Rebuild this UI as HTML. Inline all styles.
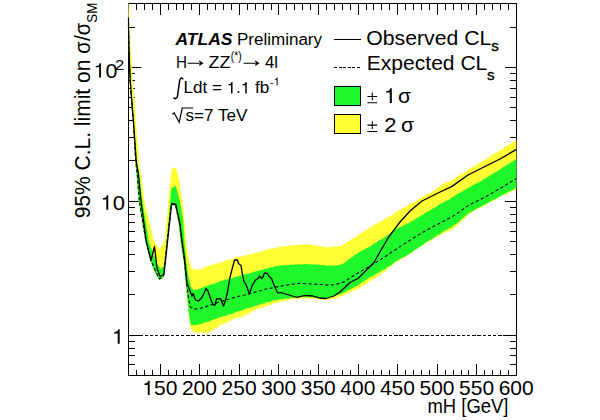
<!DOCTYPE html>
<html><head><meta charset="utf-8"><title>ATLAS limit plot</title>
<style>
html,body{margin:0;padding:0;background:#fff;}
body{width:600px;height:420px;overflow:hidden;}
svg{display:block;}
text{font-family:"Liberation Sans",sans-serif;fill:#000;}
</style></head><body>
<svg width="600" height="420" viewBox="0 0 600 420">
<rect x="0" y="0" width="600" height="420" fill="#fff"/>
<!-- frame and ticks -->
<g stroke="#000" stroke-width="1" fill="none" shape-rendering="crispEdges">
<rect x="128.5" y="3.5" width="388.0" height="372.0"/>
<line x1="136.42" y1="375.50" x2="136.42" y2="370.00"/><line x1="136.42" y1="3.50" x2="136.42" y2="10.00"/><line x1="144.34" y1="375.50" x2="144.34" y2="370.00"/><line x1="144.34" y1="3.50" x2="144.34" y2="10.00"/><line x1="152.26" y1="375.50" x2="152.26" y2="370.00"/><line x1="152.26" y1="3.50" x2="152.26" y2="10.00"/><line x1="160.17" y1="375.50" x2="160.17" y2="364.00"/><line x1="160.17" y1="3.50" x2="160.17" y2="15.00"/><line x1="168.09" y1="375.50" x2="168.09" y2="370.00"/><line x1="168.09" y1="3.50" x2="168.09" y2="10.00"/><line x1="176.01" y1="375.50" x2="176.01" y2="370.00"/><line x1="176.01" y1="3.50" x2="176.01" y2="10.00"/><line x1="183.93" y1="375.50" x2="183.93" y2="370.00"/><line x1="183.93" y1="3.50" x2="183.93" y2="10.00"/><line x1="191.85" y1="375.50" x2="191.85" y2="370.00"/><line x1="191.85" y1="3.50" x2="191.85" y2="10.00"/><line x1="199.77" y1="375.50" x2="199.77" y2="364.00"/><line x1="199.77" y1="3.50" x2="199.77" y2="15.00"/><line x1="207.68" y1="375.50" x2="207.68" y2="370.00"/><line x1="207.68" y1="3.50" x2="207.68" y2="10.00"/><line x1="215.60" y1="375.50" x2="215.60" y2="370.00"/><line x1="215.60" y1="3.50" x2="215.60" y2="10.00"/><line x1="223.52" y1="375.50" x2="223.52" y2="370.00"/><line x1="223.52" y1="3.50" x2="223.52" y2="10.00"/><line x1="231.44" y1="375.50" x2="231.44" y2="370.00"/><line x1="231.44" y1="3.50" x2="231.44" y2="10.00"/><line x1="239.36" y1="375.50" x2="239.36" y2="364.00"/><line x1="239.36" y1="3.50" x2="239.36" y2="15.00"/><line x1="247.28" y1="375.50" x2="247.28" y2="370.00"/><line x1="247.28" y1="3.50" x2="247.28" y2="10.00"/><line x1="255.19" y1="375.50" x2="255.19" y2="370.00"/><line x1="255.19" y1="3.50" x2="255.19" y2="10.00"/><line x1="263.11" y1="375.50" x2="263.11" y2="370.00"/><line x1="263.11" y1="3.50" x2="263.11" y2="10.00"/><line x1="271.03" y1="375.50" x2="271.03" y2="370.00"/><line x1="271.03" y1="3.50" x2="271.03" y2="10.00"/><line x1="278.95" y1="375.50" x2="278.95" y2="364.00"/><line x1="278.95" y1="3.50" x2="278.95" y2="15.00"/><line x1="286.87" y1="375.50" x2="286.87" y2="370.00"/><line x1="286.87" y1="3.50" x2="286.87" y2="10.00"/><line x1="294.79" y1="375.50" x2="294.79" y2="370.00"/><line x1="294.79" y1="3.50" x2="294.79" y2="10.00"/><line x1="302.70" y1="375.50" x2="302.70" y2="370.00"/><line x1="302.70" y1="3.50" x2="302.70" y2="10.00"/><line x1="310.62" y1="375.50" x2="310.62" y2="370.00"/><line x1="310.62" y1="3.50" x2="310.62" y2="10.00"/><line x1="318.54" y1="375.50" x2="318.54" y2="364.00"/><line x1="318.54" y1="3.50" x2="318.54" y2="15.00"/><line x1="326.46" y1="375.50" x2="326.46" y2="370.00"/><line x1="326.46" y1="3.50" x2="326.46" y2="10.00"/><line x1="334.38" y1="375.50" x2="334.38" y2="370.00"/><line x1="334.38" y1="3.50" x2="334.38" y2="10.00"/><line x1="342.30" y1="375.50" x2="342.30" y2="370.00"/><line x1="342.30" y1="3.50" x2="342.30" y2="10.00"/><line x1="350.21" y1="375.50" x2="350.21" y2="370.00"/><line x1="350.21" y1="3.50" x2="350.21" y2="10.00"/><line x1="358.13" y1="375.50" x2="358.13" y2="364.00"/><line x1="358.13" y1="3.50" x2="358.13" y2="15.00"/><line x1="366.05" y1="375.50" x2="366.05" y2="370.00"/><line x1="366.05" y1="3.50" x2="366.05" y2="10.00"/><line x1="373.97" y1="375.50" x2="373.97" y2="370.00"/><line x1="373.97" y1="3.50" x2="373.97" y2="10.00"/><line x1="381.89" y1="375.50" x2="381.89" y2="370.00"/><line x1="381.89" y1="3.50" x2="381.89" y2="10.00"/><line x1="389.81" y1="375.50" x2="389.81" y2="370.00"/><line x1="389.81" y1="3.50" x2="389.81" y2="10.00"/><line x1="397.72" y1="375.50" x2="397.72" y2="364.00"/><line x1="397.72" y1="3.50" x2="397.72" y2="15.00"/><line x1="405.64" y1="375.50" x2="405.64" y2="370.00"/><line x1="405.64" y1="3.50" x2="405.64" y2="10.00"/><line x1="413.56" y1="375.50" x2="413.56" y2="370.00"/><line x1="413.56" y1="3.50" x2="413.56" y2="10.00"/><line x1="421.48" y1="375.50" x2="421.48" y2="370.00"/><line x1="421.48" y1="3.50" x2="421.48" y2="10.00"/><line x1="429.40" y1="375.50" x2="429.40" y2="370.00"/><line x1="429.40" y1="3.50" x2="429.40" y2="10.00"/><line x1="437.32" y1="375.50" x2="437.32" y2="364.00"/><line x1="437.32" y1="3.50" x2="437.32" y2="15.00"/><line x1="445.23" y1="375.50" x2="445.23" y2="370.00"/><line x1="445.23" y1="3.50" x2="445.23" y2="10.00"/><line x1="453.15" y1="375.50" x2="453.15" y2="370.00"/><line x1="453.15" y1="3.50" x2="453.15" y2="10.00"/><line x1="461.07" y1="375.50" x2="461.07" y2="370.00"/><line x1="461.07" y1="3.50" x2="461.07" y2="10.00"/><line x1="468.99" y1="375.50" x2="468.99" y2="370.00"/><line x1="468.99" y1="3.50" x2="468.99" y2="10.00"/><line x1="476.91" y1="375.50" x2="476.91" y2="364.00"/><line x1="476.91" y1="3.50" x2="476.91" y2="15.00"/><line x1="484.83" y1="375.50" x2="484.83" y2="370.00"/><line x1="484.83" y1="3.50" x2="484.83" y2="10.00"/><line x1="492.74" y1="375.50" x2="492.74" y2="370.00"/><line x1="492.74" y1="3.50" x2="492.74" y2="10.00"/><line x1="500.66" y1="375.50" x2="500.66" y2="370.00"/><line x1="500.66" y1="3.50" x2="500.66" y2="10.00"/><line x1="508.58" y1="375.50" x2="508.58" y2="370.00"/><line x1="508.58" y1="3.50" x2="508.58" y2="10.00"/><line x1="128.50" y1="364.90" x2="135.00" y2="364.90"/><line x1="516.50" y1="364.90" x2="510.00" y2="364.90"/><line x1="128.50" y1="355.93" x2="135.00" y2="355.93"/><line x1="516.50" y1="355.93" x2="510.00" y2="355.93"/><line x1="128.50" y1="348.17" x2="135.00" y2="348.17"/><line x1="516.50" y1="348.17" x2="510.00" y2="348.17"/><line x1="128.50" y1="341.32" x2="135.00" y2="341.32"/><line x1="516.50" y1="341.32" x2="510.00" y2="341.32"/><line x1="128.50" y1="335.19" x2="140.50" y2="335.19"/><line x1="516.50" y1="335.19" x2="504.50" y2="335.19"/><line x1="128.50" y1="294.88" x2="135.00" y2="294.88"/><line x1="516.50" y1="294.88" x2="510.00" y2="294.88"/><line x1="128.50" y1="271.30" x2="135.00" y2="271.30"/><line x1="516.50" y1="271.30" x2="510.00" y2="271.30"/><line x1="128.50" y1="254.57" x2="135.00" y2="254.57"/><line x1="516.50" y1="254.57" x2="510.00" y2="254.57"/><line x1="128.50" y1="241.60" x2="135.00" y2="241.60"/><line x1="516.50" y1="241.60" x2="510.00" y2="241.60"/><line x1="128.50" y1="231.00" x2="135.00" y2="231.00"/><line x1="516.50" y1="231.00" x2="510.00" y2="231.00"/><line x1="128.50" y1="222.03" x2="135.00" y2="222.03"/><line x1="516.50" y1="222.03" x2="510.00" y2="222.03"/><line x1="128.50" y1="214.27" x2="135.00" y2="214.27"/><line x1="516.50" y1="214.27" x2="510.00" y2="214.27"/><line x1="128.50" y1="207.42" x2="135.00" y2="207.42"/><line x1="516.50" y1="207.42" x2="510.00" y2="207.42"/><line x1="128.50" y1="201.29" x2="140.50" y2="201.29"/><line x1="516.50" y1="201.29" x2="504.50" y2="201.29"/><line x1="128.50" y1="160.98" x2="135.00" y2="160.98"/><line x1="516.50" y1="160.98" x2="510.00" y2="160.98"/><line x1="128.50" y1="137.40" x2="135.00" y2="137.40"/><line x1="516.50" y1="137.40" x2="510.00" y2="137.40"/><line x1="128.50" y1="120.67" x2="135.00" y2="120.67"/><line x1="516.50" y1="120.67" x2="510.00" y2="120.67"/><line x1="128.50" y1="107.70" x2="135.00" y2="107.70"/><line x1="516.50" y1="107.70" x2="510.00" y2="107.70"/><line x1="128.50" y1="97.09" x2="135.00" y2="97.09"/><line x1="516.50" y1="97.09" x2="510.00" y2="97.09"/><line x1="128.50" y1="88.13" x2="135.00" y2="88.13"/><line x1="516.50" y1="88.13" x2="510.00" y2="88.13"/><line x1="128.50" y1="80.36" x2="135.00" y2="80.36"/><line x1="516.50" y1="80.36" x2="510.00" y2="80.36"/><line x1="128.50" y1="73.51" x2="135.00" y2="73.51"/><line x1="516.50" y1="73.51" x2="510.00" y2="73.51"/><line x1="128.50" y1="67.39" x2="140.50" y2="67.39"/><line x1="516.50" y1="67.39" x2="504.50" y2="67.39"/><line x1="128.50" y1="27.08" x2="135.00" y2="27.08"/><line x1="516.50" y1="27.08" x2="510.00" y2="27.08"/><line x1="128.50" y1="3.50" x2="135.00" y2="3.50"/><line x1="516.50" y1="3.50" x2="510.00" y2="3.50"/>
</g>
<!-- bands -->
<defs><clipPath id="fr"><rect x="127.5" y="3" width="389" height="373"/></clipPath></defs>
<g clip-path="url(#fr)">
<polygon points="128.4,3.0 129.9,40.0 132.3,80.0 134.3,100.0 135.8,122.0 138.8,161.0 144.5,202.0 153.5,240.0 159.5,250.0 165.0,240.0 168.5,202.0 171.5,169.6 175.6,167.4 179.0,179.0 180.0,188.0 182.5,202.0 183.3,210.0 185.0,226.0 186.0,242.0 189.0,260.0 191.3,268.5 192.7,268.8 194.1,269.7 195.5,269.4 196.9,269.9 198.3,269.8 199.7,269.6 201.1,269.5 202.5,268.4 203.9,268.0 205.3,267.0 206.7,266.3 208.1,266.2 209.5,266.2 210.9,265.1 212.3,264.8 213.7,264.7 215.1,264.6 216.5,263.8 217.9,263.2 219.3,263.3 220.7,262.1 222.1,262.4 223.5,261.5 224.9,260.9 226.3,260.5 227.7,260.2 229.1,260.2 230.5,259.3 231.9,259.2 233.3,258.8 234.7,258.2 236.1,258.0 237.5,257.2 238.9,256.9 240.3,256.7 241.7,256.7 243.1,256.1 244.5,255.7 245.9,255.6 247.3,255.1 248.7,254.6 250.1,254.7 251.5,254.3 252.9,253.5 254.3,253.5 255.7,253.1 257.1,253.1 258.5,252.6 259.9,251.8 261.3,252.0 262.7,250.8 264.1,250.6 265.5,250.4 266.9,249.4 268.3,249.3 269.7,248.6 271.1,248.9 272.5,248.7 273.9,248.2 275.3,248.2 276.7,247.4 278.1,247.5 279.5,247.1 280.9,246.8 282.3,246.5 283.7,246.7 285.1,246.6 286.5,246.1 287.9,246.1 289.3,245.4 290.7,245.8 292.1,245.6 293.5,245.8 294.9,245.5 296.3,245.0 297.7,245.0 299.1,245.2 300.5,244.6 301.9,245.0 303.3,244.7 304.7,244.6 306.1,244.5 307.5,245.1 308.9,244.5 310.3,244.8 311.7,245.1 313.1,245.7 314.5,245.1 315.9,245.6 317.3,245.9 318.7,246.3 320.1,246.4 321.5,246.6 322.9,246.3 324.3,246.8 325.7,247.0 327.1,247.7 328.5,247.7 329.9,246.8 331.3,246.8 332.7,246.7 334.1,246.6 335.5,246.7 336.9,246.7 338.3,246.3 339.7,245.9 341.1,246.0 342.5,245.0 343.9,244.3 345.3,243.8 346.7,242.6 348.1,241.6 349.5,240.8 350.9,240.0 352.3,238.5 353.7,238.4 355.1,237.4 356.5,236.6 357.9,235.6 359.3,234.4 360.7,233.6 362.1,232.4 363.5,232.1 364.9,230.7 366.3,229.9 367.7,229.1 369.1,228.2 370.5,227.5 371.9,226.4 373.3,225.5 374.7,224.8 376.1,223.9 377.5,223.3 378.9,222.2 380.3,222.2 381.7,221.1 383.1,219.9 384.5,219.2 385.9,218.5 387.3,217.7 388.7,216.7 390.1,216.6 391.5,215.8 392.9,214.5 394.3,213.7 395.7,212.5 397.1,211.6 398.5,211.0 399.9,210.1 401.3,209.7 402.7,208.3 404.1,207.3 405.5,207.3 406.9,206.2 408.3,205.0 409.7,204.6 411.1,203.3 412.5,202.9 413.9,202.5 415.3,201.6 416.7,200.7 418.1,199.5 419.5,198.7 420.9,197.7 422.3,197.5 423.7,196.4 425.1,195.8 426.5,194.6 427.9,193.7 429.3,193.4 430.7,192.7 432.1,191.7 433.5,190.8 434.9,189.9 436.3,188.9 437.7,187.6 439.1,187.0 440.5,185.9 441.9,184.8 443.3,183.9 444.7,183.4 446.1,182.6 447.5,182.3 448.9,181.8 450.3,180.6 451.7,180.3 453.1,179.6 454.5,178.9 455.9,177.6 457.3,176.7 458.7,175.8 460.1,174.8 461.5,173.9 462.9,173.4 464.3,172.7 465.7,171.8 467.1,170.6 468.5,169.8 469.9,169.0 471.3,167.6 472.7,167.3 474.1,166.6 475.5,165.7 476.9,164.9 478.3,163.8 479.7,162.7 481.1,162.4 482.5,161.1 483.9,160.6 485.3,159.9 486.7,158.5 488.1,157.7 489.5,157.3 490.9,156.2 492.3,154.8 493.7,153.9 495.1,153.1 496.5,152.9 497.9,151.9 499.3,150.4 500.7,150.2 502.1,149.4 503.5,148.3 504.9,147.1 506.3,146.4 507.7,145.2 509.1,144.2 510.5,144.2 511.9,143.0 513.3,142.0 514.7,141.5 516.1,140.2 516.5,140.0 516.5,189.3 515.4,189.8 514.0,190.2 512.6,190.7 511.2,191.7 509.8,192.2 508.4,193.1 507.0,193.2 505.6,194.6 504.2,195.0 502.8,195.6 501.4,195.8 500.0,196.7 498.6,197.7 497.2,198.8 495.8,199.2 494.4,200.3 493.0,200.7 491.6,201.9 490.2,201.8 488.8,202.7 487.4,203.9 486.0,204.2 484.6,205.1 483.2,206.4 481.8,207.1 480.4,207.4 479.0,208.1 477.6,209.0 476.2,209.4 474.8,210.7 473.4,211.0 472.0,211.9 470.6,213.0 469.2,214.2 467.8,215.0 466.4,216.2 465.0,218.0 463.6,219.3 462.2,220.5 460.8,221.6 459.4,223.0 458.0,224.8 456.6,226.3 455.2,227.0 453.8,228.2 452.4,229.3 451.0,230.4 449.6,230.7 448.2,230.9 446.8,231.6 445.4,232.6 444.0,233.2 442.6,233.6 441.2,234.3 439.8,235.0 438.4,235.9 437.0,236.5 435.6,237.6 434.2,238.4 432.8,238.7 431.4,240.3 430.0,240.9 428.6,241.3 427.2,242.3 425.8,243.5 424.4,243.9 423.0,245.3 421.6,245.9 420.2,247.2 418.8,247.4 417.4,248.3 416.0,249.4 414.6,250.1 413.2,251.8 411.8,252.7 410.4,253.6 409.0,254.2 407.6,254.7 406.2,256.4 404.8,256.9 403.4,257.9 402.0,258.3 400.6,259.4 399.2,260.7 397.8,261.0 396.4,261.9 395.0,263.2 393.6,264.6 392.2,265.0 390.8,266.2 389.4,267.3 388.0,268.4 386.6,270.0 385.2,270.8 383.8,272.1 382.4,272.8 381.0,274.2 379.6,274.5 378.2,275.9 376.8,277.0 375.4,277.9 374.0,278.7 372.6,279.6 371.2,280.3 369.8,281.1 368.4,282.1 367.0,283.2 365.6,283.9 364.2,284.4 362.8,285.3 361.4,286.3 360.0,287.8 358.6,288.6 357.2,289.5 355.8,289.6 354.4,290.5 353.0,290.6 351.6,291.3 350.2,292.0 348.8,293.1 347.4,293.2 346.0,293.7 344.6,295.0 343.2,295.2 341.8,295.7 340.4,296.2 339.0,297.0 337.6,297.6 336.2,298.2 334.8,298.5 333.4,298.8 332.0,298.5 330.6,299.4 329.2,299.3 327.8,299.4 326.4,299.5 325.0,299.6 323.6,300.0 322.2,299.8 320.8,299.3 319.4,298.9 318.0,298.6 316.6,299.3 315.2,298.8 313.8,299.0 312.4,298.7 311.0,298.0 309.6,298.2 308.2,298.2 306.8,298.6 305.4,298.1 304.0,298.4 302.6,298.7 301.2,298.0 299.8,298.0 298.4,299.1 297.0,299.1 295.6,298.5 294.2,299.8 292.8,298.7 291.4,298.8 290.0,299.1 288.6,300.5 287.2,300.7 285.8,300.3 284.4,300.0 283.0,301.7 281.6,301.2 280.2,301.3 278.8,302.8 277.4,302.3 276.0,302.8 274.6,302.4 273.2,303.4 271.8,304.4 270.4,304.9 269.0,304.7 267.6,305.1 266.2,306.8 264.8,306.0 263.4,307.9 262.0,307.5 260.6,307.9 259.2,308.0 257.8,308.7 256.4,309.5 255.0,310.0 253.6,310.7 252.2,311.8 250.8,311.5 249.4,313.4 248.0,314.4 246.6,313.8 245.2,314.6 243.8,316.1 242.4,316.7 241.0,316.8 239.6,317.6 238.2,318.1 236.8,317.8 235.4,317.8 234.0,318.3 232.6,319.0 231.2,321.0 229.8,320.4 228.4,321.3 227.0,321.6 225.6,323.5 224.2,323.7 222.8,323.9 221.4,324.2 220.0,324.8 218.6,326.2 217.2,327.7 215.8,327.6 214.4,329.3 213.0,329.5 211.6,330.7 210.2,332.1 208.8,331.1 207.4,335.6 206.0,331.4 204.6,332.2 203.2,333.0 201.8,333.0 200.4,331.4 199.0,332.3 197.6,333.1 196.2,333.8 194.8,331.4 193.4,330.8 192.0,331.6 190.4,326.0 188.3,312.0 186.4,290.0 183.6,260.0 180.7,241.0 179.0,225.0 175.5,205.5 171.3,205.0 167.2,243.0 163.7,277.0 159.5,280.0 154.6,271.5 150.3,260.0 145.4,241.0 138.8,201.0 136.7,175.0 135.3,160.0 133.2,122.0 130.2,83.0 129.0,52.0 128.3,26.0" fill="#ffff33" stroke="#ffff33" stroke-width="0.3" stroke-linejoin="miter"/>
<polygon points="128.4,17.0 129.1,50.0 130.5,81.0 133.8,122.0 136.7,161.0 139.2,175.0 142.3,201.0 149.0,243.0 152.9,253.0 156.6,263.0 160.5,269.0 164.0,266.0 166.0,250.0 168.3,225.0 170.2,202.0 171.5,188.6 175.6,185.8 180.0,202.0 183.0,220.0 184.5,244.0 186.0,260.0 188.0,275.0 191.0,287.0 193.5,290.3 194.9,290.1 196.3,289.6 197.7,289.4 199.1,288.9 200.5,288.3 201.9,288.0 203.3,287.3 204.7,286.9 206.1,286.1 207.5,286.1 208.9,285.2 210.3,284.8 211.7,284.5 213.1,284.2 214.5,283.4 215.9,283.3 217.3,282.6 218.7,282.1 220.1,281.6 221.5,280.8 222.9,280.7 224.3,280.0 225.7,279.5 227.1,279.6 228.5,278.8 229.9,278.6 231.3,278.4 232.7,277.9 234.1,277.4 235.5,277.1 236.9,276.8 238.3,276.5 239.7,275.7 241.1,275.6 242.5,275.0 243.9,274.6 245.3,274.6 246.7,274.0 248.1,273.7 249.5,273.4 250.9,273.1 252.3,272.4 253.7,272.2 255.1,271.7 256.5,271.3 257.9,271.0 259.3,270.5 260.7,270.1 262.1,269.7 263.5,269.6 264.9,269.1 266.3,268.8 267.7,268.5 269.1,267.7 270.5,267.6 271.9,267.7 273.3,267.3 274.7,266.6 276.1,266.3 277.5,266.3 278.9,265.8 280.3,265.7 281.7,265.3 283.1,265.6 284.5,265.5 285.9,265.5 287.3,264.9 288.7,265.1 290.1,265.0 291.5,264.5 292.9,264.9 294.3,264.8 295.7,264.2 297.1,264.7 298.5,264.3 299.9,264.4 301.3,264.7 302.7,264.6 304.1,264.1 305.5,264.3 306.9,264.3 308.3,264.2 309.7,264.2 311.1,264.4 312.5,264.7 313.9,264.3 315.3,264.8 316.7,264.8 318.1,264.6 319.5,264.9 320.9,265.2 322.3,265.2 323.7,265.0 325.1,265.7 326.5,265.7 327.9,265.9 329.3,265.4 330.7,265.6 332.1,265.5 333.5,266.1 334.9,265.8 336.3,265.4 337.7,265.3 339.1,265.3 340.5,264.8 341.9,264.1 343.3,263.7 344.7,263.1 346.1,261.8 347.5,260.8 348.9,259.3 350.3,258.3 351.7,257.6 353.1,256.4 354.5,255.1 355.9,254.6 357.3,253.5 358.7,252.8 360.1,251.6 361.5,251.4 362.9,250.0 364.3,249.8 365.7,248.8 367.1,248.0 368.5,247.3 369.9,246.9 371.3,245.5 372.7,244.6 374.1,244.0 375.5,242.9 376.9,242.0 378.3,241.1 379.7,240.2 381.1,239.4 382.5,238.7 383.9,237.7 385.3,237.1 386.7,235.7 388.1,234.9 389.5,233.7 390.9,232.8 392.3,231.6 393.7,230.8 395.1,229.6 396.5,229.1 397.9,228.3 399.3,227.3 400.7,226.9 402.1,226.5 403.5,225.3 404.9,225.1 406.3,224.1 407.7,223.5 409.1,223.1 410.5,222.0 411.9,221.3 413.3,220.6 414.7,219.9 416.1,218.6 417.5,218.1 418.9,217.2 420.3,216.3 421.7,215.3 423.1,214.5 424.5,213.5 425.9,212.7 427.3,211.9 428.7,211.5 430.1,210.4 431.5,209.4 432.9,208.5 434.3,208.1 435.7,207.3 437.1,206.3 438.5,205.1 439.9,204.3 441.3,203.6 442.7,203.0 444.1,202.0 445.5,201.4 446.9,200.5 448.3,200.2 449.7,199.3 451.1,198.2 452.5,197.1 453.9,196.8 455.3,195.5 456.7,194.7 458.1,193.7 459.5,193.1 460.9,192.4 462.3,191.6 463.7,190.6 465.1,190.0 466.5,188.9 467.9,188.2 469.3,187.3 470.7,186.7 472.1,185.7 473.5,184.9 474.9,184.3 476.3,183.4 477.7,182.9 479.1,182.0 480.5,181.4 481.9,180.5 483.3,179.8 484.7,179.1 486.1,177.9 487.5,177.1 488.9,176.6 490.3,175.2 491.7,174.7 493.1,173.8 494.5,172.5 495.9,172.2 497.3,171.3 498.7,170.3 500.1,169.4 501.5,168.6 502.9,167.3 504.3,166.7 505.7,165.8 507.1,165.1 508.5,164.2 509.9,163.4 511.3,162.3 512.7,161.7 514.1,160.6 515.5,159.8 516.5,159.0 516.5,188.0 515.5,188.6 514.1,189.0 512.7,189.8 511.3,190.7 509.9,191.2 508.5,191.6 507.1,192.5 505.7,193.4 504.3,194.3 502.9,194.5 501.5,195.2 500.1,196.2 498.7,197.2 497.3,197.8 495.9,198.8 494.5,199.2 493.1,199.8 491.7,200.4 490.3,201.6 488.9,202.1 487.5,202.9 486.1,203.8 484.7,204.6 483.3,205.0 481.9,205.8 480.5,207.0 479.1,207.6 477.7,208.1 476.3,208.7 474.9,209.5 473.5,210.5 472.1,211.5 470.7,211.8 469.3,213.0 467.9,213.6 466.5,215.0 465.1,216.1 463.7,217.4 462.3,218.5 460.9,219.8 459.5,221.2 458.1,222.2 456.7,223.3 455.3,224.3 453.9,225.2 452.5,226.0 451.1,227.4 449.7,228.1 448.3,228.8 446.9,229.7 445.5,230.1 444.1,230.7 442.7,232.0 441.3,232.8 439.9,234.0 438.5,234.7 437.1,235.1 435.7,236.0 434.3,237.5 432.9,238.3 431.5,239.3 430.1,239.8 428.7,240.6 427.3,241.4 425.9,242.3 424.5,243.1 423.1,244.5 421.7,245.3 420.3,246.2 418.9,246.9 417.5,248.4 416.1,248.9 414.7,249.7 413.3,250.9 411.9,251.9 410.5,253.0 409.1,253.8 407.7,254.6 406.3,255.6 404.9,256.5 403.5,257.1 402.1,257.7 400.7,258.5 399.3,259.2 397.9,260.2 396.5,260.8 395.1,261.8 393.7,262.7 392.3,263.9 390.9,265.2 389.5,266.1 388.1,266.5 386.7,267.6 385.3,268.9 383.9,269.3 382.5,270.1 381.1,270.9 379.7,271.8 378.3,272.7 376.9,273.3 375.5,274.3 374.1,274.9 372.7,276.1 371.3,276.7 369.9,277.2 368.5,278.1 367.1,279.1 365.7,279.8 364.3,281.2 362.9,281.5 361.5,282.5 360.1,283.7 358.7,284.6 357.3,285.3 355.9,286.3 354.5,286.5 353.1,287.7 351.7,288.3 350.3,289.3 348.9,290.0 347.5,290.5 346.1,291.4 344.7,292.1 343.3,292.9 341.9,293.2 340.5,293.8 339.1,294.6 337.7,294.8 336.3,295.2 334.9,296.0 333.5,296.0 332.1,296.7 330.7,296.6 329.3,297.0 327.9,297.5 326.5,298.0 325.1,298.0 323.7,298.1 322.3,298.3 320.9,297.7 319.5,297.6 318.1,297.4 316.7,297.8 315.3,297.5 313.9,297.6 312.5,296.9 311.1,297.4 309.7,297.3 308.3,296.7 306.9,297.3 305.5,296.8 304.1,296.8 302.7,296.6 301.3,296.7 299.9,296.8 298.5,297.0 297.1,296.8 295.7,297.0 294.3,297.5 292.9,297.9 291.5,297.6 290.1,298.1 288.7,298.4 287.3,298.3 285.9,298.7 284.5,298.4 283.1,299.2 281.7,299.2 280.3,299.1 278.9,299.7 277.5,299.7 276.1,300.4 274.7,300.1 273.3,300.4 271.9,300.8 270.5,301.6 269.1,301.9 267.7,302.0 266.3,302.1 264.9,303.2 263.5,303.6 262.1,303.5 260.7,304.4 259.3,304.3 257.9,305.0 256.5,305.4 255.1,305.9 253.7,306.2 252.3,306.9 250.9,307.4 249.5,307.8 248.1,308.0 246.7,308.3 245.3,308.7 243.9,309.6 242.5,309.9 241.1,310.7 239.7,310.8 238.3,311.2 236.9,311.6 235.5,312.5 234.1,312.9 232.7,313.5 231.3,313.9 229.9,314.2 228.5,314.5 227.1,315.1 225.7,315.8 224.3,316.1 222.9,316.2 221.5,317.0 220.1,317.1 218.7,317.5 217.3,318.1 215.9,318.9 214.5,318.9 213.1,319.8 211.7,320.3 210.3,320.7 208.9,321.4 207.5,321.9 206.1,321.8 204.7,322.6 203.3,323.1 201.9,323.5 200.5,323.9 199.1,324.3 197.7,324.8 196.3,324.7 194.9,325.3 193.5,325.2 192.1,324.8 190.7,324.5 188.6,310.0 186.6,290.0 183.6,260.0 180.7,241.0 179.0,225.0 175.5,205.5 171.3,205.0 167.2,243.0 163.7,277.0 159.5,280.0 154.6,271.5 150.3,260.0 145.4,241.0 138.8,201.0 136.7,175.0 135.3,160.0 133.2,122.0 130.2,83.0 129.0,52.0 128.3,26.0" fill="#1ef72b" stroke="#1ef72b" stroke-width="0.2" stroke-linejoin="miter"/>
<polyline points="128.4,24.0 129.0,51.0 130.2,82.0 133.3,122.0 135.6,160.0 137.3,175.0 139.3,201.0 145.9,241.0 150.8,259.6 155.0,270.0 159.5,279.0 163.5,276.0 167.0,242.0 171.3,204.0 175.5,204.8 179.7,224.5 181.7,241.0 184.3,260.0 186.8,285.0 188.2,296.0 190.5,307.0 194.0,309.2 200.0,308.5 208.0,306.0 218.0,302.5 228.0,299.5 237.0,296.6 245.0,295.0 265.0,289.3 285.0,285.3 299.0,283.4 313.0,284.0 326.0,285.0 335.0,284.7 343.3,282.3 356.7,273.8 370.0,266.2 380.0,260.0 400.0,246.6 420.0,233.9 437.0,224.6 450.8,217.5 459.2,212.0 467.5,206.0 475.8,201.7 487.0,196.0 503.0,186.7 516.5,178.4" fill="none" stroke="#000" stroke-width="1.1" stroke-dasharray="3.2,2.4"/>
<polyline points="128.4,17.5 129.0,50.0 130.2,81.0 133.5,122.0 136.2,161.0 138.5,175.0 141.0,201.0 146.2,241.0 151.0,260.5 154.5,246.5 157.0,268.0 160.0,276.5 164.0,274.5 167.6,241.0 171.7,203.5 175.8,204.5 180.0,224.0 182.0,241.0 184.8,260.0 185.7,270.0 187.0,283.0 190.0,291.0 192.0,296.0 193.0,293.5 195.5,300.0 198.5,301.0 201.5,298.0 204.0,293.5 206.0,288.5 208.0,291.0 211.0,300.0 213.0,304.8 215.0,305.0 216.5,299.0 220.5,298.5 223.5,306.2 226.0,298.5 227.7,291.0 230.0,277.0 234.5,260.0 237.5,260.0 238.5,263.5 241.0,265.5 242.5,275.0 244.0,281.5 246.0,284.5 249.4,294.0 252.0,286.0 255.0,280.5 258.0,278.5 259.5,276.2 261.5,278.7 263.0,277.0 264.5,273.0 267.5,273.5 269.0,276.2 271.5,278.6 274.0,285.0 277.4,292.6 282.0,292.8 289.0,295.0 297.0,297.4 305.0,295.4 313.0,296.0 320.0,298.0 326.0,298.5 334.0,296.0 340.0,292.0 350.0,282.5 358.0,278.5 364.0,272.5 370.0,266.5 374.0,262.5 380.7,250.5 388.7,237.0 396.7,226.3 400.0,222.0 410.0,211.0 422.0,201.0 436.0,194.0 452.0,186.4 468.0,175.0 484.0,167.0 500.0,159.0 516.5,149.4" fill="none" stroke="#000" stroke-width="1.3" stroke-linejoin="round"/>
<line x1="129" y1="335.19" x2="516" y2="335.19" stroke="#000" stroke-width="1" stroke-dasharray="3.4,1.8" shape-rendering="crispEdges"/>
</g>

<!-- tick labels x -->
<g font-size="20" text-anchor="middle">
<g transform="translate(142.36,395.00) scale(1.0500,1)" fill="#000"><path transform="translate(0.00,0) scale(0.02000,-0.02000)" d="M259 0V505H102V568C223 581 259 606 286 709H347V0Z"/><text text-anchor="start" font-size="20" x="11.12 22.24" y="0">50</text></g>
<g transform="translate(181.95,395.00) scale(1.0500,1)" fill="#000"><text text-anchor="start" font-size="20" x="0.00 11.12 22.24" y="0">200</text></g>
<g transform="translate(221.54,395.00) scale(1.0500,1)" fill="#000"><text text-anchor="start" font-size="20" x="0.00 11.12 22.24" y="0">250</text></g>
<g transform="translate(261.13,395.00) scale(1.0500,1)" fill="#000"><text text-anchor="start" font-size="20" x="0.00 11.12 22.24" y="0">300</text></g>
<g transform="translate(300.73,395.00) scale(1.0500,1)" fill="#000"><text text-anchor="start" font-size="20" x="0.00 11.12 22.24" y="0">350</text></g>
<g transform="translate(340.32,395.00) scale(1.0500,1)" fill="#000"><text text-anchor="start" font-size="20" x="0.00 11.12 22.24" y="0">400</text></g>
<g transform="translate(379.91,395.00) scale(1.0500,1)" fill="#000"><text text-anchor="start" font-size="20" x="0.00 11.12 22.24" y="0">450</text></g>
<g transform="translate(419.50,395.00) scale(1.0500,1)" fill="#000"><text text-anchor="start" font-size="20" x="0.00 11.12 22.24" y="0">500</text></g>
<g transform="translate(459.09,395.00) scale(1.0500,1)" fill="#000"><text text-anchor="start" font-size="20" x="0.00 11.12 22.24" y="0">550</text></g>
<g transform="translate(498.69,395.00) scale(1.0500,1)" fill="#000"><text text-anchor="start" font-size="20" x="0.00 11.12 22.24" y="0">600</text></g>
</g>
<text x="508.5" y="413" font-size="19.5" text-anchor="end" textLength="81" lengthAdjust="spacingAndGlyphs">mH [GeV]</text>
<!-- tick labels y -->
<g transform="translate(93.60,77.60) scale(1.0500,1)" fill="#000"><path transform="translate(0.00,0) scale(0.02040,-0.02040)" d="M259 0V505H102V568C223 581 259 606 286 709H347V0Z"/><text text-anchor="start" font-size="20.4" x="11.34" y="0">0</text></g>
<g transform="translate(115.00,70.20) scale(1.0800,1)" fill="#000"><text text-anchor="start" font-size="15.4" x="0.00" y="0">2</text></g>
<g transform="translate(100.60,209.80) scale(1.0800,1)" fill="#000"><path transform="translate(0.00,0) scale(0.02040,-0.02040)" d="M259 0V505H102V568C223 581 259 606 286 709H347V0Z"/><text text-anchor="start" font-size="20.4" x="11.34" y="0">0</text></g>
<g transform="translate(111.90,343.80) scale(1.1000,1)" fill="#000"><path transform="translate(0.00,0) scale(0.02040,-0.02040)" d="M259 0V505H102V568C223 581 259 606 286 709H347V0Z"/></g>
<!-- y title -->
<g transform="translate(89.8,218.3) rotate(-90) scale(1,1.06)" font-size="21">
<text x="0" y="0">95% C.L. limit on</text>
<text x="164.6" y="0" textLength="12.4" lengthAdjust="spacingAndGlyphs">&#963;</text>
<text x="177.2" y="0">/</text>
<text x="183.1" y="0" textLength="12.4" lengthAdjust="spacingAndGlyphs">&#963;</text>
<text x="195.6" y="7" font-size="13.5" textLength="20" lengthAdjust="spacingAndGlyphs">SM</text>
</g>
<!-- ATLAS label block -->
<text x="175.5" y="44.6" font-size="16" font-weight="bold" font-style="italic" textLength="57" lengthAdjust="spacingAndGlyphs">ATLAS</text>
<text x="237" y="44.6" font-size="16" textLength="85" lengthAdjust="spacingAndGlyphs">Preliminary</text>
<g font-size="16">
<text x="176" y="68.3" font-size="16.5" textLength="11" lengthAdjust="spacingAndGlyphs">H</text>
<text x="208.5" y="68" textLength="22" lengthAdjust="spacingAndGlyphs">ZZ</text>
<text x="230.8" y="60" font-size="12.5" textLength="10.8" lengthAdjust="spacingAndGlyphs">(*)</text>
<text x="265" y="68" textLength="13" lengthAdjust="spacingAndGlyphs">4l</text>
<text x="183.4" y="93.4" textLength="38.5" lengthAdjust="spacingAndGlyphs">Ldt =</text>
<g transform="translate(226.60,93.40) scale(1.0680,1)" fill="#000"><path transform="translate(0.00,0) scale(0.01600,-0.01600)" d="M259 0V505H102V568C223 581 259 606 286 709H347V0Z"/><path transform="translate(13.34,0) scale(0.01600,-0.01600)" d="M259 0V505H102V568C223 581 259 606 286 709H347V0Z"/><text text-anchor="start" font-size="16" x="8.90" y="0">.</text></g>
<text x="255.1" y="93.4" textLength="14.25" lengthAdjust="spacingAndGlyphs">fb</text>
<g transform="translate(269.80,85.60) scale(1.0000,1)" fill="#000"><path transform="translate(3.83,0) scale(0.01150,-0.01150)" d="M259 0V505H102V568C223 581 259 606 286 709H347V0Z"/><text text-anchor="start" font-size="11.5" x="0.00" y="0">-</text></g>
<text x="185.5" y="121.4" textLength="62" lengthAdjust="spacingAndGlyphs">s=7 TeV</text>
</g>
<g stroke="#000" stroke-width="1" fill="none">
<path d="M187.6 63.2H201.8M199.2 61.1L202.4 63.2L199.2 65.3" stroke-width="1.15"/>
<path d="M243.6 63.2H257.8M255.2 61.1L258.4 63.2L255.2 65.3" stroke-width="1.15"/>
<path d="M183 79.5C182.4 77.5 180.2 77.2 179.7 80.6L177.5 95.8C177 99.3 174.6 99.2 173.6 97.3" stroke-width="1.5"/>
<path d="M172.3 114.3L174.2 112.9L179.2 122.2L182.3 108H193.2" stroke-width="1.2"/>
</g>
<!-- legend -->
<g stroke="#000" stroke-width="1" shape-rendering="crispEdges">
<line x1="334" y1="39.5" x2="361" y2="39.5"/>
<line x1="334" y1="67.5" x2="361" y2="67.5" stroke-dasharray="3,1.6"/>
<rect x="334.5" y="86.5" width="26" height="19" fill="#1ef72b"/>
<rect x="334.5" y="114.5" width="26" height="19" fill="#ffff33"/>
</g>
<g font-size="20.5">
<text x="366.3" y="45.3" textLength="125" lengthAdjust="spacingAndGlyphs">Observed CL</text>
<text x="491.2" y="50.8" font-size="14.5" textLength="7.6" lengthAdjust="spacingAndGlyphs" stroke="#000" stroke-width="0.35">s</text>
<text x="366.8" y="69.6" textLength="120.5" lengthAdjust="spacingAndGlyphs">Expected CL</text>
<text x="487.0" y="79.6" font-size="14.5" textLength="7.6" lengthAdjust="spacingAndGlyphs" stroke="#000" stroke-width="0.35">s</text>
<path d="M367.4 96.4H377.2M372.3 92.6V100.2M367.4 102.7H377.2" stroke="#000" stroke-width="1.05" fill="none"/>
<g transform="translate(383.80,103.10) scale(1.1000,1)" fill="#000"><path transform="translate(0.00,0) scale(0.02100,-0.02100)" d="M259 0V505H102V568C223 581 259 606 286 709H347V0Z"/></g>
<text x="398" y="103" textLength="13" lengthAdjust="spacingAndGlyphs">&#963;</text>
<path d="M367.4 125.1H377.2M372.3 121.3V128.9M367.4 131.4H377.2" stroke="#000" stroke-width="1.05" fill="none"/>
<text x="384.2" y="131.8" font-size="21" textLength="12.2" lengthAdjust="spacingAndGlyphs">2</text>
<text x="401" y="131.8" textLength="13" lengthAdjust="spacingAndGlyphs">&#963;</text>
</g>

</svg>
</body></html>
